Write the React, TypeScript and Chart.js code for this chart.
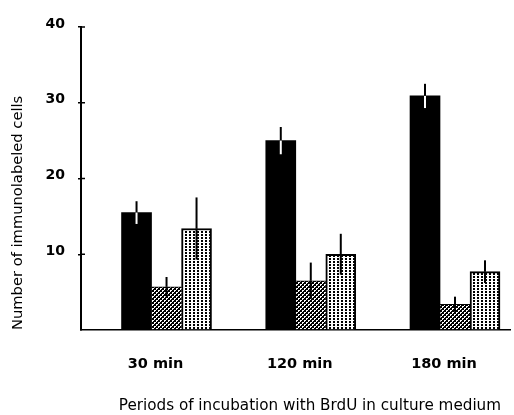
import React, { useEffect, useRef } from 'react';
import { Chart, registerables } from 'chart.js';

Chart.register(...registerables);

// ---- data ----
const categories = ['30 min', '120 min', '180 min'];
const categoryPositions = [1, 2, 3];
const blackValues = [15.5, 25.0, 30.9];
const blackErrors = [1.5, 1.8, 1.6];
const hatchValues = [5.7, 6.5, 3.4];
const hatchErrors = [1.3, 2.4, 1.0];
const dottedValues = [13.4, 10.0, 7.7];
const dottedErrors = [4.1, 2.7, 1.5];
const yTickValues = [0, 10, 20, 30, 40];
const yTitle = 'Number of immunolabeled cells';
const xTitle = 'Periods of incubation with BrdU in culture medium  ';

const FONT = "'DejaVu Sans', sans-serif";

function makeHatch(ctx: CanvasRenderingContext2D) {
  const c = document.createElement('canvas');
  c.width = 4;
  c.height = 4;
  const g = c.getContext('2d')!;
  g.fillStyle = '#000';
  g.fillRect(0, 0, 4, 4);
  g.fillStyle = '#fff';
  g.fillRect(0, 0, 2, 1);
  g.fillRect(0, 1, 1, 1);
  g.fillRect(2, 2, 2, 1);
  g.fillRect(2, 3, 1, 1);
  return ctx.createPattern(c, 'repeat')!;
}

function makeDots(ctx: CanvasRenderingContext2D) {
  const c = document.createElement('canvas');
  c.width = 4;
  c.height = 3;
  const g = c.getContext('2d')!;
  g.fillStyle = '#fff';
  g.fillRect(0, 0, 4, 3);
  g.fillStyle = '#000';
  g.fillRect(1, 0, 2, 2);
  return ctx.createPattern(c, 'repeat')!;
}

const errorBarPlugin = {
  id: 'errorBars',
  afterDatasetsDraw(chart: any) {
    const ctx = chart.ctx as CanvasRenderingContext2D;
    const yScale = chart.scales.y;
    chart.data.datasets.forEach((ds: any, di: number) => {
      const meta = chart.getDatasetMeta(di);
      meta.data.forEach((bar: any, i: number) => {
        const v = ds.data[i].y;
        const e = ds.errors[i];
        const top = yScale.getPixelForValue(v + e);
        const mid = yScale.getPixelForValue(v);
        const bot = yScale.getPixelForValue(v - e);
        ctx.save();
        ctx.lineWidth = 2;
        ctx.strokeStyle = '#000';
        ctx.beginPath();
        ctx.moveTo(bar.x, top);
        ctx.lineTo(bar.x, mid);
        ctx.stroke();
        ctx.strokeStyle = ds.errorInnerColor;
        ctx.beginPath();
        ctx.moveTo(bar.x, mid);
        ctx.lineTo(bar.x, bot);
        ctx.stroke();
        ctx.restore();
      });
    });
    // inner tick marks on the y axis
    const xPix = chart.chartArea.left;
    ctx.save();
    ctx.strokeStyle = '#000';
    ctx.lineWidth = 1.5;
    yScale.ticks.forEach((t: any) => {
      if (t.value === 0) return;
      const yy = yScale.getPixelForValue(t.value);
      ctx.beginPath();
      ctx.moveTo(xPix, yy);
      ctx.lineTo(xPix + 4, yy);
      ctx.stroke();
    });
    ctx.restore();
  },
};

export default function App() {
  const ref = useRef<HTMLCanvasElement | null>(null);

  useEffect(() => {
    const canvas = ref.current!;
    const ctx = canvas.getContext('2d')!;
    const hatch = makeHatch(ctx);
    const dots = makeDots(ctx);
    const toPoints = (vals: number[]) => categoryPositions.map((x, i) => ({ x, y: vals[i] }));

    const chart = new Chart(canvas, {
      type: 'bar',
      data: {
        datasets: [
          {
            label: 'black',
            data: toPoints(blackValues),
            backgroundColor: '#000',
            borderWidth: 0,
            barThickness: 30,
            errors: blackErrors,
            errorInnerColor: '#fff',
          } as any,
          {
            label: 'hatched',
            data: toPoints(hatchValues),
            backgroundColor: hatch,
            borderColor: '#000',
            borderWidth: { top: 1, left: 0, right: 0, bottom: 0 },
            barThickness: 30,
            errors: hatchErrors,
            errorInnerColor: '#000',
          } as any,
          {
            label: 'dotted',
            data: toPoints(dottedValues),
            backgroundColor: dots,
            borderColor: '#000',
            borderWidth: 2,
            barThickness: 30,
            errors: dottedErrors,
            errorInnerColor: '#000',
          } as any,
        ],
      },
      options: {
        animation: false,
        responsive: false,
        layout: { padding: { top: 27, right: 1, left: 0, bottom: 0 } },
        plugins: { legend: { display: false }, tooltip: { enabled: false } },
        scales: {
          x: {
            type: 'linear',
            position: 'bottom',
            offset: false,
            min: 0.407,
            max: 3.386,
            grid: { display: false, drawTicks: false, offset: false },
            border: { display: true, color: '#000', width: 1.5 },
            afterBuildTicks: (s: any) => {
              s.ticks = categoryPositions.map((v) => ({ value: v }));
            },
            afterFit: (s: any) => {
              s.height = 85;
            },
            ticks: {
              color: '#000',
              padding: 26,
              labelOffset: -11,
              maxRotation: 0,
              font: { family: FONT, size: 14.5, weight: 'bold' },
              callback: (v: any) => {
                const idx = categoryPositions.indexOf(Number(v));
                return idx >= 0 ? categories[idx] : '';
              },
            },
            title: {
              display: true,
              text: xTitle,
              align: 'end',
              color: '#000',
              padding: 0,
              font: { family: FONT, size: 15.2 },
            },
          },
          y: {
            type: 'linear',
            min: 0,
            max: 40,
            afterBuildTicks: (s: any) => {
              s.ticks = yTickValues.map((v) => ({ value: v }));
            },
            afterFit: (s: any) => {
              s.width = 81;
            },
            grid: {
              display: true,
              drawOnChartArea: false,
              drawTicks: true,
              tickLength: 3,
              color: (c: any) => (c.tick && c.tick.value === 0 ? 'rgba(0,0,0,0)' : '#000'),
              lineWidth: 1.5,
            },
            border: { display: true, color: '#000', width: 2 },
            ticks: {
              color: '#000',
              padding: 13,
              labelOffset: -3,
              font: { family: FONT, size: 14, weight: 'bold' },
              callback: (v: any) => (Number(v) === 0 ? '' : String(v)),
            },
            title: {
              display: true,
              text: yTitle,
              align: 'start',
              color: '#000',
              padding: { top: 9, bottom: 0 },
              font: { family: FONT, size: 14.7 },
            },
          },
        },
      } as any,
      plugins: [errorBarPlugin],
    });

    return () => chart.destroy();
  }, []);

  return (
    <div style={{ position: 'fixed', left: 0, top: 0, width: 514, height: 415, background: '#fff' }}>
      <canvas ref={ref} width={514} height={415} style={{ display: 'block', width: 514, height: 415 }} />
    </div>
  );
}
